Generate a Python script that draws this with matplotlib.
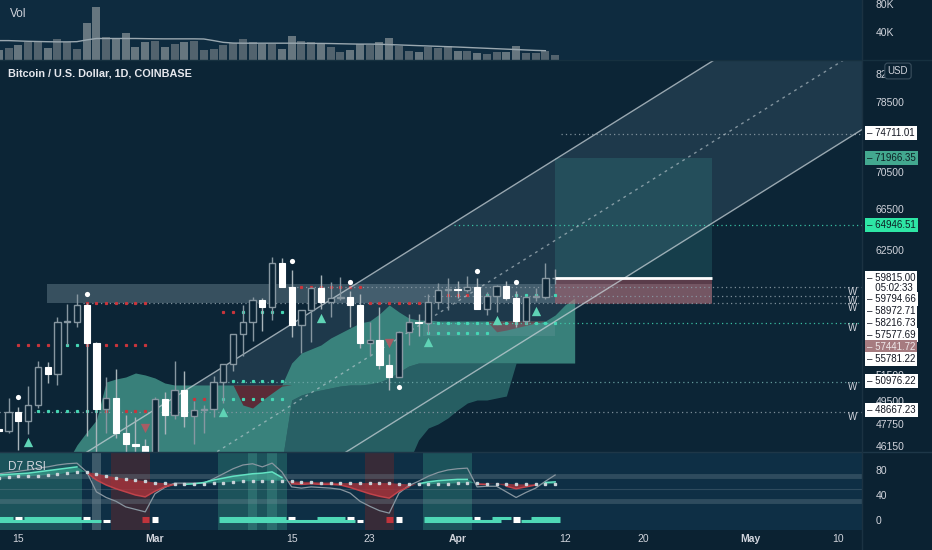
import numpy as np
import matplotlib
matplotlib.use('Agg')
import matplotlib.pyplot as plt
from matplotlib.patches import Rectangle

plt.rcParams['font.family'] = ['Liberation Sans', 'DejaVu Sans']

# daily candles, day 0 = 1 Mar 2021
days = np.arange(-16, 42)
opens = [47400, 47230, 48600, 47930, 49170, 52150, 51580, 55900, 55900, 57400,
         54100, 48900, 49700, 47060, 46300, 46150, 45150, 49600, 48400, 50350,
         48350, 48760, 48880, 50970, 52380, 54880, 55860, 57800, 57230, 61190,
         59000, 55640, 56900, 58930, 57650, 58030, 58100, 57350, 54100, 54340,
         52300, 51300, 55050, 55850, 55780, 57600, 58750, 58800, 58730, 58970,
         57060, 58200, 59130, 57990, 56000, 58100, 58100, 59800]
highs = [48150, 49700, 49000, 50600, 52600, 52550, 56300, 57500, 58350, 57550,
         54200, 51350, 52000, 48400, 48300, 46650, 49800, 50200, 52600, 51800,
         49450, 49200, 51450, 52400, 54900, 57400, 58100, 58000, 61800, 61700,
         60600, 56900, 58950, 60100, 59450, 59900, 58600, 58400, 55850, 57200,
         53200, 55100, 56600, 56600, 58400, 59400, 59800, 59500, 60000, 59800,
         58500, 59200, 59500, 58650, 58150, 58900, 61200, 60700]
lows = [46200, 47050, 45900, 47030, 48950, 50900, 50700, 53900, 55500, 46900,
        44900, 47100, 46700, 44100, 45100, 43000, 45000, 47000, 48100, 47500,
        46300, 47100, 48300, 49300, 51850, 53000, 54300, 55100, 56100, 59000,
        54600, 53300, 54200, 57000, 56300, 57800, 55500, 53700, 53000, 52000,
        50300, 51300, 53950, 54700, 54900, 57000, 56900, 58000, 58500, 57000,
        56500, 56800, 57800, 55500, 55700, 57700, 57900, 59300]
closes = [47230, 48600, 47930, 49170, 52150, 51580, 55900, 55900, 57400, 54100,
          48900, 49700, 47060, 46300, 46150, 45150, 49600, 48400, 50350, 48350,
          48760, 48880, 50970, 52380, 54880, 55860, 57800, 57230, 61190, 59000,
          55640, 56900, 58930, 57650, 58030, 58100, 57350, 54100, 54340, 52300,
          51300, 55050, 55850, 55780, 57600, 58750, 58800, 58730, 58970, 57060,
          58200, 59130, 57990, 56000, 58100, 58100, 59800, 59815]
volume_k = [13.3, 16.2, 20.9, 24.8, 26.7, 16.7, 30.0, 24.3, 14.8, 51.9,
            75.2, 32.4, 29.5, 37.6, 17.6, 24.8, 26.7, 18.1, 22.8, 25.2,
            26.7, 12.9, 15.2, 20.5, 23.3, 29.5, 25.7, 22.8, 22.4, 14.8,
            33.8, 26.7, 24.3, 23.3, 18.1, 10.9, 13.3, 21.9, 21.4, 25.2,
            30.9, 18.6, 12.4, 10.5, 18.1, 16.7, 18.6, 12.4, 12.4, 9.5,
            7.6, 10.9, 11.4, 19.5, 10.0, 10.0, 12.4, 7.1]
vol_ma_k = [27, 27, 26.5, 26, 25.7, 25.4, 25.2, 25.2, 25.5, 28,
            30, 30, 30, 30, 30, 29.8, 29.6, 29.5, 29.5, 29.5,
            29.5, 29.3, 27, 24.5, 23.5, 23.3, 23.3, 23.3, 23.3, 23.3,
            23.3, 23.3, 23, 23, 22.8, 22.5, 22.2, 22, 22, 21.8,
            21.3, 20.8, 20.3, 19.8, 19.3, 18.8, 18.3, 17.8, 17.2, 16.6,
            16, 15.4, 14.8, 14.2, 13.6, 13, 12.6, np.nan]

# cloud (days -9..43)
cloud_days = np.arange(-9, 44)
cloud_top = ([45000, 46221, 47159, 48041, 50944, 51180, 51339, 51657, 51498, 51259, 50866]
             + [50710] * 12
             + [52458, 53277, 53608, 53940, 54524, 54948, 55375, 55804]
             + [55976, 56585, 57378, 56761, 56235, 56062, 56062]
             + [55976] * 12 + [56498, 57378, 58002])
cloud_mid = ([45000] * 23
             + [49547, 49931, 50165, 50320, 50476, 50632, 50710, 50710, 50788, 50944, 51259, 51738, 52217]
             + [52458] * 17)
cloud_low = ([45000] * 36
             + [46579, 47451, 47746, 48190, 48789, 49318, 49547, 49547, 49701, 49854]
             + [52458] * 7)
red_days = np.arange(8, 15)
red_top = [50710] * 7
red_bot = [50710, 49168, 48939, 49547, 50088, 50632, 50710]
red2_days = np.arange(34, 41)
red2_top = [55976] * 7
red2_bot = [55976, 55050, 55200, 55400, 55600, 55800, 55976]

# channel (upper line anchors) and width ratio
channel_days = [-7, 57]
channel_upper = [45710, 83530]
channel_ratio = 1.1332

# long position
entry_price = 59815.0
target_price = 71966.35
stop_price = 57441.72
pos_days = [41, 57.1]

zone_lo, zone_hi = 57578, 59300
zone2_lo, zone2_hi = 54700, 55827

# levels: price, start day, colour, W mark
levels = [(74711.01, 42, '#8a9aa5', False), (64946.51, 31, '#3fcfae', False),
          (58972.71, 14, '#8a9aa5', True), (58216.73, 28, '#8a9aa5', True),
          (57577.69, -7, '#8a9aa5', True), (55781.22, 28, '#3fcfae', True),
          (50976.22, 7, '#6fa8a8', True), (48667.23, -16, '#8a9aa5', True)]

pivot_rows = [(-7, -1, 57580, 'r'), (-14, -11, 53917, 'r'), (-10, -8, 53917, 't'),
              (-7, -1, 53917, 'r'), (-13, -6, 48713, 't'), (-5, 0, 48713, 'r'),
              (7, 8, 56760, 'r'), (9, 15, 56760, 't'), (7, 13, 51023, 't'),
              (4, 5, 49625, 'r'), (6, 13, 49625, 't'), (15, 21, 59021, 'r'),
              (22, 27, 57520, 'r'), (28, 41, 55827, 't'), (28, 34, 54925, 't'),
              (29, 33, 58268, 'r'), (34, 41, 58268, 't')]

dot_days = [-14, -7, 14, 20, 25, 33, 37]
dot_prices = [49800, 58357, 61440, 59422, 50575, 60498, 59422]
up_tri_days = [-13, 7, 17, 28, 35, 39]
up_tri_prices = [46414, 48660, 56212, 54212, 56062, 56872]
dn_tri_days = [-1, 24]
dn_tri_prices = [47429, 54065]

# RSI panel
rsi_raw = [74, 76, 78, 80, 83, 85, 88, 90, 91,
           77, 45, 36, 30, 21, 17, 13,
           42, 52, 59, 59, 59, 59, 66, 74, 82, 88, 90, 85, 91,
           77, 53, 51, 53, 52, 51, 49, 43, 30, 22, 15, 11,
           43, 55, 62, 70, 76, 80, 82, 83,
           53, 54, 54, 45, 36, 44, 51, 62, 72]
rsi_fast = [72, 73, 74, 75, 77, 79, 81, 83, 85,
            76, 64, 56, 50, 45, 40, 37,
            46, 53, 57, 57, 58, 60, 64, 67, 70, 72, 74, 75, 77,
            68, 58, 57, 58, 57, 57, 56, 52, 47, 42, 38, 35,
            46, 53, 58, 61, 63, 64, 65, 65,
            57, 57, 58, 54, 50, 53, 56, 60, 61]
rsi_slow = [68, 69, 70, 70, 71, 72, 73, 75, 77,
            77, 74, 71, 68, 66, 64, 62,
            60, 59, 58, 57, 57, 58, 59, 60, 61, 62, 62, 63, 63,
            63, 62, 61, 61, 60, 60, 59, 59, 59, 59, 59, 59,
            58, 57, 57, 57, 58, 58, 59, 59,
            59, 58, 58, 58, 57, 57, 57, 57, 58]
teal_cols = [(-16.5, -7.5), (6.5, 13.5), (27.5, 32.5)]
light_cols = [(9.5, 10.5), (11.5, 12.5)]
gray_cols = [(-6.5, -5.5)]
red_cols = [(-4.5, -0.5), (21.5, 24.5)]
top_teal = [(-16, -15), (-13, -8), (7, 13), (17, 19), (28, 32), (35, 36), (39, 41)]
top_white = [-14, -7, 0, 14, 20, 25, 33, 37]
bot_teal = [(-16, -6), (7, 20), (28, 35), (38, 41)]
bot_white = [-5, 0, 21, 25, 37]
sig_red = [-1, 24]

date_ticks = [-14, 0, 14, 22, 31, 42, 50, 61, 70]
date_labels = ['15', 'Mar', '15', '23', 'Apr', '12', '20', 'May', '10']
price_ticks = [46150, 47750, 49500, 51500, 62500, 66500, 70500, 78500, 82000]

BG = '#0c2536'
TXT = '#d1d4dc'
W, H = 932, 550
XL = (-15.88, 72.44)

fig = plt.figure(figsize=(9.32, 5.5), dpi=100, facecolor='#0b2232')
ax_vol = fig.add_axes([0, 490 / H, 862 / W, 60 / H], facecolor='#0e2b3f')
ax = fig.add_axes([0, 98 / H, 862 / W, 392 / H], facecolor=BG)
ax_rsi = fig.add_axes([0, 20 / H, 862 / W, 78 / H], facecolor='#0e2f45')
for a in (ax_vol, ax, ax_rsi):
    a.set_xlim(*XL)
    for s in a.spines.values():
        s.set_visible(False)
    a.tick_params(length=0, labelcolor=TXT, labelsize=7.5)
    a.yaxis.tick_right()
    a.set_xticks([])

# ---- volume
up = np.array(closes) >= np.array(opens)
ax_vol.bar(days, np.array(volume_k) * 1000, width=0.82,
           color=np.where(up, '#52636e', '#66767f'), zorder=2)
ax_vol.plot(days, np.array(vol_ma_k) * 1000, color='#9aa8b0', lw=1, zorder=3)
ax_vol.set_ylim(-714, 85000)
ax_vol.set_yticks([40000, 80000])
ax_vol.set_yticklabels(['40K', '80K'])
ax_vol.tick_params(axis='y', pad=10)

# ---- main
ax.set_yscale('log')
ax.set_ylim(45724, 83762)
ax.yaxis.set_minor_locator(matplotlib.ticker.NullLocator())
ax.set_yticks(price_ticks)
ax.set_yticklabels([str(p) for p in price_ticks])
ax.tick_params(axis='y', pad=10)

k = (np.log(channel_upper[1]) - np.log(channel_upper[0])) / (channel_days[1] - channel_days[0])
cx = np.array([-20.0, 80.0])
upper = channel_upper[0] * np.exp(k * (cx - channel_days[0]))
mid = upper / channel_ratio
lower = upper / channel_ratio ** 2
ax.fill_between(cx, lower, upper, color='#6a8ea0', alpha=0.2, lw=0, zorder=1)

ax.fill_between(cloud_days, cloud_low, cloud_mid, color='#2a6568', alpha=0.9, lw=0, zorder=2)
ax.fill_between(cloud_days, cloud_mid, cloud_top, color='#3d8b82', alpha=0.9, lw=0, zorder=2)
ax.fill_between(red_days, red_bot, red_top, color='#5b2b37', lw=0, zorder=2)
ax.fill_between(red2_days, red2_bot, red2_top, color='#6b3a45', alpha=0.8, lw=0, zorder=2)

ax.add_patch(Rectangle((-11.1, zone_lo), 68.2, zone_hi - zone_lo, fc='#9db5c0', alpha=0.3, lw=0, zorder=3))
ax.add_patch(Rectangle((27.5, zone2_lo), 13.5, zone2_hi - zone2_lo, fc='#9db5c0', alpha=0.15, lw=0, zorder=3))
ax.add_patch(Rectangle((pos_days[0], entry_price), pos_days[1] - pos_days[0], target_price - entry_price,
                       fc='#3fa7a0', alpha=0.2, lw=0, zorder=3))
ax.add_patch(Rectangle((pos_days[0], stop_price), pos_days[1] - pos_days[0], entry_price - stop_price,
                       fc='#d0606a', alpha=0.4, lw=0, zorder=3))

for price, d0, col, wmark in levels:
    ax.hlines(price, d0 - 0.4, XL[1], colors=col, linestyles=(0, (1, 2.5)), lw=0.9, alpha=0.9, zorder=4)
    if wmark:
        ax.text(71.5, price, 'W', color=TXT, fontsize=7, ha='center', va='top', zorder=9)

for d0, d1, price, c in pivot_rows:
    xs = np.arange(d0, d1 + 1)
    ax.plot(xs, [price] * len(xs), ls='none', marker='s', ms=1.3,
            color='#c8353c' if c == 'r' else '#45d6b4', zorder=4)

ax.plot(cx, upper, color='#c5d0d6', lw=1, alpha=0.75, zorder=5)
ax.plot(cx, mid, color='#c5d0d6', lw=1, alpha=0.6, ls=(0, (2, 3)), zorder=5)
ax.plot(cx, lower, color='#c5d0d6', lw=1, alpha=0.75, zorder=5)

for d, o, h, l, c in zip(days, opens, highs, lows, closes):
    if c >= o:
        ax.vlines(d, l, h, color='#8797a1', lw=1, zorder=6)
        ax.add_patch(Rectangle((d - 0.32, o), 0.64, max(c - o, 40), fc=BG, ec='#8797a1', lw=1, zorder=7))
    else:
        ax.vlines(d, l, h, color='#a9b4ba', lw=1, zorder=6)
        ax.add_patch(Rectangle((d - 0.32, c), 0.64, o - c, fc='#ffffff', ec='#ffffff', lw=0.8, zorder=7))

ax.hlines(entry_price, pos_days[0], pos_days[1], colors='#ffffff', lw=2, zorder=8)
ax.scatter(dot_days, dot_prices, s=14, color='#ffffff', zorder=8, lw=0)
ax.scatter(up_tri_days, up_tri_prices, s=45, marker='^', color='#5fd3b5', zorder=8, lw=0)
ax.scatter(dn_tri_days, dn_tri_prices, s=45, marker='v', color='#a85c64', zorder=8, lw=0)

# ---- RSI
ax_rsi.set_ylim(-16, 108.8)
for a0, a1 in teal_cols:
    ax_rsi.axvspan(a0, a1, color='#1f5a5f', alpha=0.85, lw=0, zorder=1)
for a0, a1 in light_cols:
    ax_rsi.axvspan(a0, a1, color='#2f7474', alpha=0.8, lw=0, zorder=1)
for a0, a1 in gray_cols:
    ax_rsi.axvspan(a0, a1, color='#4a6674', alpha=0.8, lw=0, zorder=1)
for a0, a1 in red_cols:
    ax_rsi.axvspan(a0, a1, color='#3a2b38', alpha=0.95, lw=0, zorder=1)
for lvl, lw in ((70, 3.5), (30, 3.5), (50, 0.8)):
    ax_rsi.axhline(lvl, color='#7b8f9a', alpha=0.3, lw=lw, zorder=2)
fast = np.array(rsi_fast, float)
slow = np.array(rsi_slow, float)
ax_rsi.fill_between(days, fast, slow, where=fast >= slow, interpolate=True,
                    color='#3fb59a', alpha=0.55, lw=0, zorder=3)
ax_rsi.fill_between(days, fast, slow, where=fast < slow, interpolate=True,
                    color='#a8333b', alpha=0.8, lw=0, zorder=3)
ax_rsi.plot(days, rsi_raw, color='#8896a0', lw=0.9, zorder=4)
ax_rsi.plot(days, np.where(fast >= slow, fast, np.nan), color='#63e3c3', lw=1.1, zorder=5)
ax_rsi.plot(days, np.where(fast < slow, fast, np.nan), color='#c2434b', lw=1.1, zorder=5)
ax_rsi.plot(days, slow, ls='none', marker='s', ms=1.8, color='#c9d2d8', zorder=5)
for a0, a1 in top_teal:
    ax_rsi.hlines(3, a0 - 0.45, a1 + 0.45, colors='#4fd8b6', lw=2.2, zorder=5)
for a0, a1 in bot_teal:
    ax_rsi.hlines(-2, a0 - 0.45, a1 + 0.45, colors='#4fd8b6', lw=2.2, zorder=5)
for d in top_white:
    ax_rsi.hlines(3, d - 0.35, d + 0.35, colors='#ffffff', lw=2.2, zorder=6)
for d in bot_white:
    ax_rsi.hlines(-2, d - 0.35, d + 0.35, colors='#ffffff', lw=2.2, zorder=6)
for d in sig_red:
    ax_rsi.hlines([3, -2], d - 0.35, d + 0.35, colors='#c0343c', lw=2.2, zorder=6)
ax_rsi.set_yticks([0, 40, 80])
ax_rsi.tick_params(axis='y', pad=10)
ax_rsi.set_xticks(date_ticks)
ax_rsi.set_xticklabels(date_labels)
ax_rsi.tick_params(axis='x', pad=3)
for t in ax_rsi.get_xticklabels():
    if t.get_text() in ('Mar', 'Apr', 'May'):
        t.set_fontweight('bold')

# panel separators
fig.add_artist(plt.Line2D([0, 1], [98 / H, 98 / H], color='#1e3748', lw=1))
fig.add_artist(plt.Line2D([0, 1], [490 / H, 490 / H], color='#16303f', lw=1))
fig.add_artist(plt.Line2D([862 / W, 862 / W], [0, 1], color='#1b3242', lw=1))

# titles
fig.text(10 / W, 1 - 14 / H, 'Vol', color=TXT, fontsize=8.5, va='center')
fig.text(8 / W, 1 - 73 / H, 'Bitcoin / U.S. Dollar, 1D, COINBASE', color='#e6e8ee',
         fontsize=7.8, fontweight='bold', va='center')
fig.text(8 / W, 1 - 467 / H, 'D7 RSI', color=TXT, fontsize=8.5, va='center')

# price tags on the axis
tags = [(133, '74711.01', '#ffffff', '#131722'), (158, '71966.35', '#43a88f', '#0d1f24'),
        (225, '64946.51', '#2ee6a5', '#0d1f24'), (283, '59815.00\n   05:02:33', '#ffffff', '#131722'),
        (299, '59794.66', '#ffffff', '#131722'), (311, '58972.71', '#ffffff', '#131722'),
        (323, '58216.73', '#ffffff', '#131722'), (335, '57577.69', '#ffffff', '#131722'),
        (347, '57441.72', '#a67b80', '#f0e8ea'), (359, '55781.22', '#ffffff', '#131722'),
        (381, '50976.22', '#ffffff', '#131722'), (410, '48667.23', '#ffffff', '#131722')]
for ypx, txt, bg, fg in tags:
    fig.text(867 / W, 1 - ypx / H, '\u2013 ' + txt, color=fg, fontsize=7, va='center', ha='left',
             linespacing=1.0, bbox=dict(boxstyle='square,pad=0.2', fc=bg, ec='none'))
fig.text(898 / W, 1 - 71 / H, 'USD', color=TXT, fontsize=7, va='center', ha='center',
         bbox=dict(boxstyle='round,pad=0.3', fc='#0b2232', ec='#3a4f5e', lw=0.8))

fig.savefig('out.png', dpi=100, facecolor=fig.get_facecolor())
